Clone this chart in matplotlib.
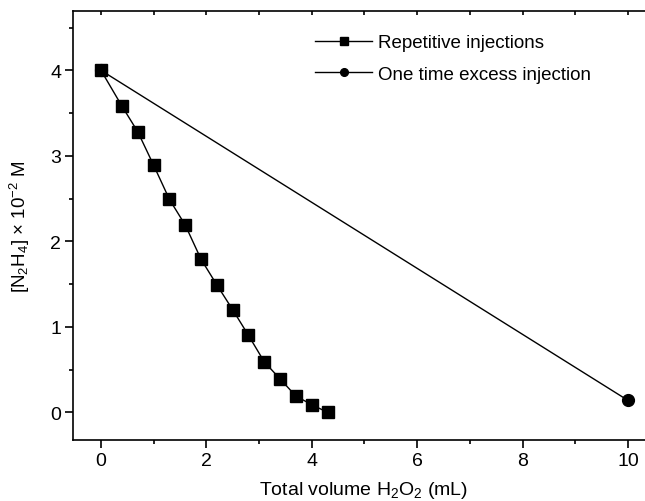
import matplotlib
matplotlib.use("Agg")
import matplotlib.pyplot as plt
from matplotlib.ticker import MultipleLocator

plt.rcParams['font.family'] = ['Liberation Sans', 'DejaVu Sans']
plt.rcParams['mathtext.fontset'] = 'custom'
plt.rcParams['mathtext.rm'] = 'Liberation Sans'
plt.rcParams['mathtext.it'] = 'Liberation Sans:italic'
plt.rcParams['mathtext.bf'] = 'Liberation Sans:bold'

rep_x = [0, 0.4, 0.7, 1.0, 1.3, 1.6, 1.9, 2.2, 2.5, 2.8, 3.1, 3.4, 3.7, 4.0, 4.3]
rep_y = [4.0, 3.58, 3.28, 2.89, 2.49, 2.19, 1.79, 1.49, 1.20, 0.90, 0.59, 0.39, 0.19, 0.09, 0.0]
one_x = [0, 10]
one_y = [4.0, 0.14]
labels = ["Repetitive injections", "One time excess injection"]

W, H = 645, 502
fig = plt.figure(figsize=(W/100, H/100), dpi=100)
xmin, xmax = -0.53, 10.5
ymin, ymax = -0.32, 4.69
px_per_x = 52.7
left_px, top_px, bottom_px = 73, 12.3, 440.7
right_px = left_px + (xmax - xmin) * px_per_x
aw, ah = right_px - left_px, bottom_px - top_px
ax = fig.add_axes([left_px/W, 1 - bottom_px/H, aw/W, ah/H])

ax.plot(rep_x, rep_y, '-', color='black', lw=1.0, marker='s', ms=8.5, label=labels[0], clip_on=False)
ax.plot(one_x, one_y, '-', color='black', lw=1.0, marker='o', ms=8.5, label=labels[1], clip_on=False)

ax.set_xlim(xmin, xmax)
ax.set_ylim(ymin, ymax)
ax.xaxis.set_major_locator(MultipleLocator(2))
ax.xaxis.set_minor_locator(MultipleLocator(1))
ax.yaxis.set_major_locator(MultipleLocator(1))
ax.yaxis.set_minor_locator(MultipleLocator(0.5))
ax.tick_params(axis='both', which='major', direction='out', length=5.5, width=1.2,
               labelsize=14, color='black', pad=3)
ax.tick_params(axis='both', which='minor', direction='out', length=3, width=1.2)
for sp in ax.spines.values():
    sp.set_linewidth(1.2)

# top inward ticks
sec = ax.secondary_xaxis('top')
sec.xaxis.set_major_locator(MultipleLocator(1))
sec.tick_params(direction='in', length=3, width=1.2, labeltop=False)
sec.spines['top'].set_visible(False)

ax.set_xlabel("Total volume H$_2$O$_2$ (mL)", fontsize=14, va='baseline')
ax.xaxis.set_label_coords((364 - left_px)/aw, -(495 - bottom_px)/ah)
ax.set_ylabel("[N$_2$H$_4$] × 10$^{-2}$ M", fontsize=13.5)
ax.yaxis.set_label_coords(-(left_px - 32)/aw, 0.5)

leg = ax.legend(loc='upper left', bbox_to_anchor=(315/W, 1 - 35/H), bbox_transform=fig.transFigure,
                frameon=False, fontsize=13.5, handlelength=3.05, handletextpad=0.32,
                markerscale=0.65, numpoints=1, labelspacing=0.77, borderaxespad=0, borderpad=0)

fig.savefig("out.png", dpi=100)
